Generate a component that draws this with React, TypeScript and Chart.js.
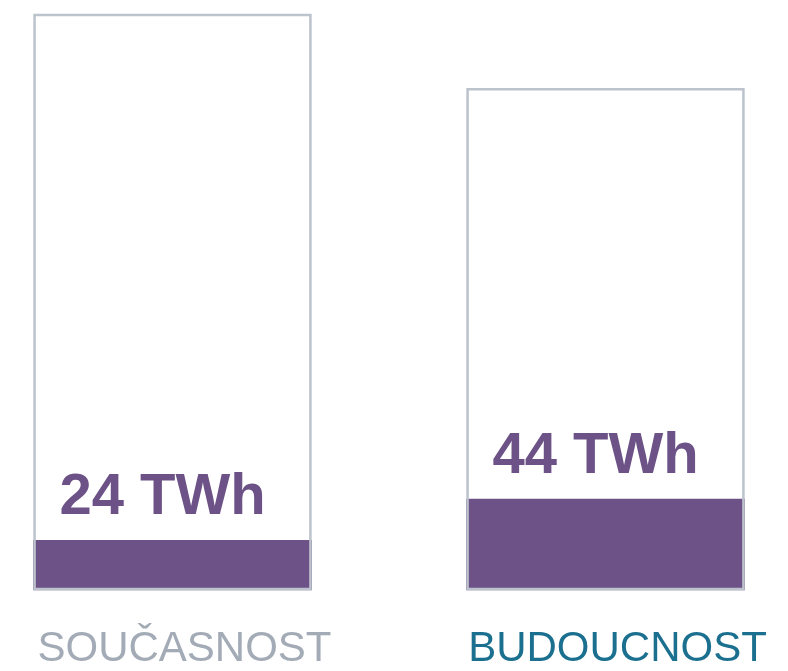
import { useEffect, useRef } from "react";
import { Chart, registerables } from "chart.js";

Chart.register(...registerables);

const categories = ["SOUČASNOST", "BUDOUCNOST"];
const totalValues = [279, 243];
const valuesTWh = [24, 44];
const valueLabels = ["24 TWh", "44 TWh"];
const categoryColors = ["#a3abb6", "#1b6f8f"];

export default function App() {
  const ref = useRef<HTMLCanvasElement>(null);
  useEffect(() => {
    const valueLabelPlugin = {
      id: "valueLabels",
      afterDatasetsDraw(chart: any) {
        const meta = chart.getDatasetMeta(1);
        const ctx = chart.ctx;
        ctx.save();
        ctx.font = "bold 58px 'Liberation Sans', Arial, sans-serif";
        ctx.fillStyle = "#6c5286";
        ctx.textAlign = "center";
        ctx.textBaseline = "alphabetic";
        meta.data.forEach((bar: any, i: number) => {
          ctx.fillText(valueLabels[i], bar.x - 10, bar.y - 26);
        });
        ctx.restore();
      },
    };
    const chart = new Chart(ref.current as HTMLCanvasElement, {
      type: "bar",
      data: {
        labels: categories,
        datasets: [
          {
            label: "total",
            data: totalValues,
            backgroundColor: "rgba(255,255,255,0)",
            borderColor: "#bcc3cd",
            borderWidth: 2,
            borderSkipped: false,
            barThickness: 278,
            grouped: false,
            clip: false,
            order: 1,
          } as any,
          {
            label: "value",
            data: valuesTWh,
            backgroundColor: "#6c5286",
            borderWidth: 0,
            barThickness: 278,
            grouped: false,
            clip: false,
            order: 2,
          } as any,
        ],
      },
      options: {
        animation: false,
        responsive: true,
        maintainAspectRatio: false,
        layout: { padding: { left: 164.5, right: 174.5, top: 3.8, bottom: 0 } },
        plugins: { legend: { display: false }, tooltip: { enabled: false } },
        scales: {
          x: {
            type: "category",
            offset: false,
            grid: { display: false, drawTicks: false },
            border: { display: false },
            ticks: {
              font: { family: "'Liberation Sans', Arial, sans-serif", size: 42, lineHeight: 2.35 },
              color: (c: any) => categoryColors[c.index],
              padding: 10,
              labelOffset: 12,
              maxRotation: 0,
              autoSkip: false,
            },
            afterFit: (scale: any) => {
              scale.height = 81;
            },
          },
          y: { display: false, min: 0, max: 280 },
        },
      },
      plugins: [valueLabelPlugin],
    });
    return () => chart.destroy();
  }, []);
  return (
    <div style={{ position: "relative", height: 663 }}>
      <canvas ref={ref} />
    </div>
  );
}
